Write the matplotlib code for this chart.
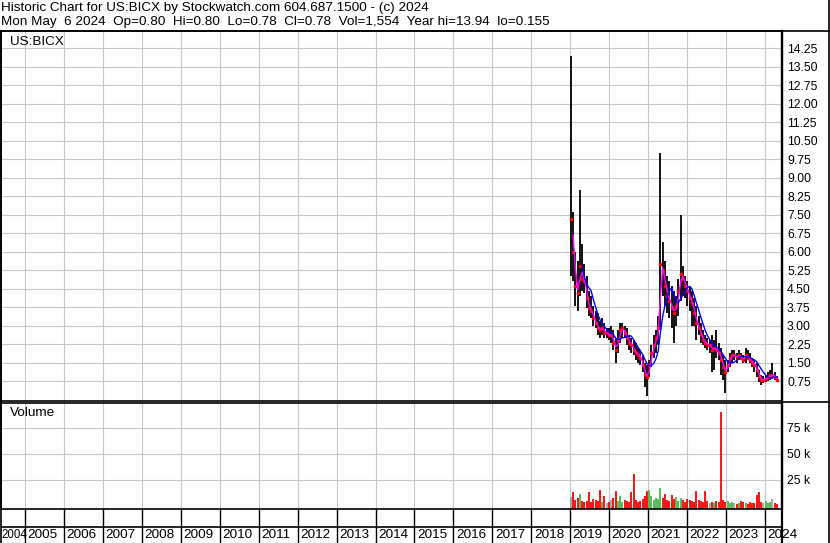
import numpy as np
import pandas as pd
import matplotlib
matplotlib.use("Agg")
import matplotlib.pyplot as plt
import matplotlib.dates as mdates
from matplotlib.lines import Line2D
from datetime import datetime

plt.rcParams["font.family"] = ["Liberation Sans", "DejaVu Sans"]

W, H = 830, 543

header_1 = "Historic Chart for US:BICX by Stockwatch.com 604.687.1500 - (c) 2024"
header_2 = "Mon May  6 2024  Op=0.80  Hi=0.80  Lo=0.78  Cl=0.78  Vol=1,554  Year hi=13.94  lo=0.155"
symbol = "US:BICX"

# samples every 3 weeks, Jan 2019 -> May 2024
start_date = "2019-01-07"
high = [13.94, 7.6, 6.0, 5.6, 8.5, 6.3, 5.5, 5.0, 4.4, 4.2, 3.8, 3.6, 3.5, 3.2, 3.3, 3.1, 2.9, 2.9,
        3.0, 2.8, 2.5, 2.8, 3.1, 3.1, 3.0, 2.9, 2.6, 2.5, 2.4, 2.3, 2.1, 2.0, 1.8, 1.5, 1.4,
        1.6, 2.2, 2.6, 2.8, 3.4, 10.0, 6.4, 5.6, 5.0, 4.8, 4.6, 4.4, 4.2, 4.9, 7.5, 5.4, 5.0,
        4.8, 4.6, 4.4, 4.1, 3.8, 3.4, 3.1, 2.8, 2.6, 2.5, 2.4, 2.6, 2.4, 2.8, 2.3, 2.1, 1.8, 1.6,
        1.6, 1.9, 2.0, 2.0, 1.9, 2.0, 1.9, 1.8, 2.1, 2.0, 1.9, 1.7, 1.6, 1.5, 1.2, 1.0, 0.95,
        1.0, 1.1, 1.2, 1.5, 1.1, 0.95]
low = [5.0, 4.8, 3.8, 3.6, 4.2, 4.4, 4.3, 3.7, 3.4, 3.3, 3.0, 2.9, 2.6, 2.5, 2.6, 2.5, 2.5, 2.4,
       2.3, 2.0, 1.5, 1.9, 2.3, 2.5, 2.5, 2.2, 2.0, 1.9, 1.8, 1.6, 1.5, 1.4, 1.1, 0.5, 0.15,
       0.9, 1.3, 1.7, 1.9, 2.2, 2.8, 4.2, 3.8, 3.5, 3.3, 2.9, 2.3, 3.0, 3.4, 4.0, 4.2, 4.1,
       3.8, 3.6, 3.0, 3.0, 2.4, 2.6, 2.3, 2.2, 2.1, 2.0, 1.9, 1.1, 1.2, 1.7, 1.6, 1.0, 0.8, 0.26,
       1.1, 1.3, 1.5, 1.6, 1.5, 1.6, 1.6, 1.5, 1.5, 1.6, 1.5, 1.3, 1.1, 0.9, 0.7, 0.6, 0.65,
       0.7, 0.75, 0.8, 0.85, 0.8, 0.75]
close = [7.3, 6.0, 4.6, 4.3, 5.4, 4.9, 4.8, 4.1, 3.7, 3.6, 3.3, 3.1, 2.9, 2.8, 2.9, 2.7, 2.7, 2.6,
         2.6, 2.3, 2.0, 2.4, 2.8, 2.9, 2.7, 2.5, 2.3, 2.2, 2.0, 1.9, 1.8, 1.7, 1.4, 1.0, 0.9,
         1.4, 1.9, 2.2, 2.5, 2.9, 5.5, 5.2, 4.6, 4.2, 4.0, 3.7, 3.5, 3.8, 4.4, 5.1, 4.9, 4.6,
         4.4, 4.1, 3.9, 3.5, 3.1, 2.9, 2.6, 2.4, 2.3, 2.2, 2.2, 2.0, 2.1, 2.0, 1.9, 1.6, 1.3, 1.1,
         1.4, 1.7, 1.8, 1.8, 1.7, 1.8, 1.7, 1.6, 1.8, 1.7, 1.6, 1.5, 1.4, 1.2, 0.9, 0.8, 0.8,
         0.85, 0.9, 1.0, 1.0, 0.9, 0.8]
volume_k = [9, 13, 6, 8, 12, 5, 4, 5, 13, 4, 7, 6, 5, 15, 4, 10, 3, 4,
            6, 8, 14, 5, 10, 4, 6, 5, 4, 13, 31, 6, 4, 5, 7, 10, 14,
            15, 10, 6, 8, 7, 17, 8, 12, 6, 5, 11, 7, 9, 5, 8, 6, 4,
            7, 6, 5, 4, 14, 6, 5, 4, 14, 5, 3, 4, 3, 5, 4, 90, 6, 4,
            5, 3, 4, 3, 2, 3, 5, 4, 3, 2, 4, 3, 3, 11, 13, 4, 3,
            5, 3, 4, 7, 3, 2]

price_ticks = [0.75, 1.50, 2.25, 3.00, 3.75, 4.50, 5.25, 6.00, 6.75, 7.50, 8.25, 9.00,
               9.75, 10.50, 11.25, 12.00, 12.75, 13.50, 14.25]
vol_ticks = [25000, 50000, 75000]
vol_tick_labels = ["25 k", "50 k", "75 k"]
years = list(range(2004, 2025))

GRID = "#c8c8c8"
FS = 8.8
TFS = 9.7


def px_rect(l, t, r, b):
    return [l / W, 1 - b / H, (r - l) / W, (b - t) / H]


def fig_line(fig, x0, y0, x1, y1, lw=1.0):
    fig.add_artist(Line2D([x0 / W, x1 / W], [1 - y0 / H, 1 - y1 / H],
                          transform=fig.transFigure, color="black", lw=lw))


dates = pd.date_range(start_date, periods=len(close), freq="21D")
close_s = pd.Series(close, index=dates)
ma_short = close_s.rolling(2).mean()
ma_long = close_s.rolling(6).mean()
vol = np.array(volume_k) * 1000.0
chg = np.diff(np.r_[close[0], close])
vol_colors = np.where(chg > 0, "#4cb34c", np.where(chg < 0, "#ff0000", "#a0a0a0"))

x_left = mdates.date2num(datetime(2004, 5, 20))
x_right = mdates.date2num(datetime(2024, 6, 9))
year_nums = [mdates.date2num(datetime(y, 1, 1)) for y in years]

fig = plt.figure(figsize=(W / 100, H / 100), dpi=100)
fig.patch.set_facecolor("white")

# header
fig.text(1 / W, 1 - 8.5 / H, header_1, fontsize=TFS, va="center", ha="left")
fig.text(1 / W, 1 - 22.5 / H, header_2, fontsize=TFS, va="center", ha="left")

# price panel
ax = fig.add_axes(px_rect(1, 31, 782, 401))
ax.set_xlim(x_left, x_right)
ax.set_ylim(-0.06, 14.94)
ax.set_yticks(price_ticks)
ax.set_yticklabels([f"{t:.2f}" for t in price_ticks])
ax.set_xticks(year_nums[1:])
ax.grid(True, color=GRID, lw=0.8)
ax.set_axisbelow(True)
ax.yaxis.tick_right()
ax.tick_params(axis="y", length=0, pad=3.6, labelsize=FS)
ax.tick_params(axis="x", length=0, labelbottom=False)
ax.vlines(dates, low, high, color="black", lw=1.3)
ax.plot(dates, close, ls="none", marker="s", ms=1.7, mfc="red", mec="red")
ax.plot(dates, ma_short, color="#ff00ff", lw=1.0)
ax.plot(dates, ma_long, color="#0000ff", lw=1.0)
ax.text(9 / 781, 1 - 10.7 / 370, symbol, transform=ax.transAxes, fontsize=TFS,
        ha="left", va="center")
for s in ax.spines.values():
    s.set_color("black")
    s.set_linewidth(1.2)
ax.spines["right"].set_linewidth(1.6)

# volume panel
axv = fig.add_axes(px_rect(1, 403, 782, 509))
axv.set_xlim(x_left, x_right)
axv.set_ylim(-2900, 99000)
axv.set_yticks(vol_ticks)
axv.set_yticklabels(vol_tick_labels)
axv.set_xticks(year_nums[1:])
axv.grid(True, color=GRID, lw=0.8)
axv.set_axisbelow(True)
axv.yaxis.tick_right()
axv.tick_params(axis="y", length=0, pad=3.6, labelsize=FS)
axv.tick_params(axis="x", length=0, labelbottom=False)
axv.vlines(dates, -2900, vol, colors=vol_colors, lw=1.3)
axv.text(9 / 781, 1 - 10 / 106, "Volume", transform=axv.transAxes, fontsize=TFS,
         ha="left", va="center")
for s in axv.spines.values():
    s.set_color("black")
    s.set_linewidth(1.2)
axv.spines["right"].set_linewidth(1.6)

# year strip
axy = fig.add_axes(px_rect(1, 509, 782, 543))
axy.set_xlim(x_left, x_right)
axy.set_ylim(0, 1)
axy.axis("off")
axy.vlines(year_nums[1:], 0, 1, color="black", lw=1.0)
axy.axhline(16 / 34, color="black", lw=1.2)
# first year is only partly visible: its label squeezes in at the left edge
axy.text(0.0, 8 / 34, str(years[0]), transform=axy.transAxes, ha="left",
         va="center", fontsize=8.3)
for y, xn in zip(years[1:], year_nums[1:]):
    axy.annotate(str(y), xy=(xn, 8 / 34), xycoords="data", xytext=(1.8, 0),
                 textcoords="offset points", ha="left", va="center",
                 fontsize=TFS, annotation_clip=False)

# frame lines
fig_line(fig, 0, 30.5, W, 30.5, lw=1.2)
fig_line(fig, 782, 401.5, W, 401.5, lw=1.2)
fig_line(fig, 782, 31, 782, H, lw=1.6)
fig_line(fig, 828.5, 0, 828.5, H, lw=1.2)
fig_line(fig, 0.5, 31, 0.5, H, lw=1.2)

fig.savefig("out.png", dpi=100, facecolor="white")
